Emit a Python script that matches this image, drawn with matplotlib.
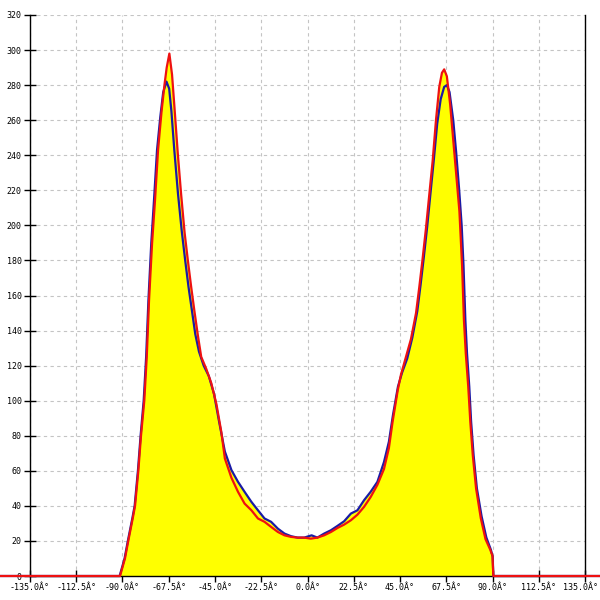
"""
Angular distribution plot: two overlaid profiles (blue, red) with the area
under them filled yellow, plotted against angle from -135 to 135 degrees.
"""

import matplotlib
matplotlib.use("Agg")
import matplotlib.pyplot as plt
import matplotlib.transforms as mtransforms
import numpy as np

# ------------------------------------------------------------------ data
red_angle = [
    -150, -91.2, -88.8, -87.2, -85.0, -83.9, -82.3, -81.0, -79.4, -78.2,
    -77.1, -75.6, -74.2, -72.7, -71.0, -69.6, -68.5, -67.2, -65.9, -64.7,
    -63.1, -61.5, -59.8, -58.2, -56.6, -55.0, -53.3, -51.7, -49.2, -46.8,
    -44.3, -41.9, -40.2, -37.0, -33.8, -30.6, -27.3, -24.1, -20.9, -17.7,
    -14.4, -11.2, -8.0, -4.8, -1.6, 1.6, 4.8, 8.1, 11.4, 14.6,
    17.8, 21.1, 24.3, 27.5, 30.7, 34.0, 37.2, 39.6, 41.4, 43.9,
    45.5, 47.9, 50.3, 52.8, 54.4, 56.0, 57.6, 59.2, 60.9, 62.5,
    64.1, 65.4, 66.5, 67.8, 69.4, 70.8, 72.5, 73.9, 75.2, 76.1,
    77.0, 78.2, 79.2, 80.4, 82.0, 84.3, 86.6, 88.9, 90.0, 90.4,
    150,
]
red_count = [
    0, 0, 10, 20, 33, 40, 60, 80, 100, 125,
    157, 190, 214, 243, 265, 280, 290, 298, 286, 267,
    241, 218, 196, 180, 165, 151, 137, 125, 118, 110,
    98, 82, 67, 56, 48, 41.3, 37.5, 32.8, 30.9, 28,
    25.1, 23.2, 22.3, 21.9, 21.9, 21.3, 21.9, 23.2, 25.1, 27.4,
    29.3, 31.8, 35, 39.4, 45, 52, 61, 73, 88, 106,
    115, 125, 135, 150, 165, 181, 198, 217, 237, 260,
    279, 287, 289, 285, 269, 250, 227, 208, 177, 146,
    127, 108, 88, 69, 50, 33, 21, 15, 11.5, 0,
    0,
]

blue_angle = [
    -150, -91.4, -89.0, -87.4, -85.2, -84.1, -82.5, -81.2, -79.7, -78.5,
    -77.4, -76.0, -74.7, -73.2, -71.6, -70.2, -68.6, -67.3, -66.2, -64.8,
    -63.0, -61.2, -59.5, -57.9, -56.3, -54.6, -52.8, -50.5, -48.0, -45.5,
    -43.0, -40.2, -37.0, -33.8, -30.6, -27.3, -24.1, -20.9, -17.7, -14.4,
    -11.2, -8.0, -4.8, -1.6, 2.0, 4.8, 8.1, 11.4, 14.6, 17.8,
    21.1, 24.3, 27.5, 30.7, 34.0, 37.2, 39.6, 41.6, 44.0, 46.0,
    48.5, 51.0, 53.4, 55.0, 56.6, 58.2, 59.8, 61.5, 63.1, 64.8,
    66.5, 67.8, 69.1, 70.9, 72.3, 73.8, 75.0, 75.9, 76.8, 77.6,
    78.7, 79.6, 80.8, 82.4, 84.7, 87.0, 89.2, 90.1, 90.4, 150,
]
blue_count = [
    0, 0, 10, 20, 33, 40, 60, 80, 100, 125,
    157, 190, 214, 243, 262, 276, 282, 278, 265, 243,
    218, 197, 180, 165, 152, 138, 128, 120, 114, 104,
    88, 71, 60.4, 53.7, 48, 42.3, 37.5, 32.8, 30.9, 27,
    24.2, 22.7, 21.9, 21.9, 23.2, 21.9, 24.2, 26.1, 28.6, 31.2,
    35.6, 37.5, 43.2, 48, 53.7, 65, 76.6, 92, 108, 116,
    124, 136, 151, 166, 182, 199, 218, 238, 258, 272,
    279, 280, 276, 260, 242, 220, 200, 177, 146, 127,
    108, 88, 69, 50, 34, 22, 15, 11, 0, 0,
]

x_ticks = np.arange(-135, 135.1, 22.5)
y_ticks = np.arange(0, 321, 20)

# --------------------------------------------------------------- drawing
fig = plt.figure(figsize=(6, 6), dpi=100)
ax = fig.add_axes([0.05, 0.04, 0.925, 0.935])
ax.set_xlim(-135, 135)
ax.set_ylim(0, 320)

ax.fill_between(blue_angle, blue_count, color="#FFFF00", lw=0, zorder=2)
ax.fill_between(red_angle, red_count, color="#FFFF00", lw=0, zorder=2)
ax.plot(blue_angle, blue_count, color="#1a1aa6", lw=1.6, zorder=4,
        clip_on=False)
ax.plot(red_angle, red_count, color="#ee1111", lw=1.6, zorder=5,
        clip_on=False)

# grid + axes frame
ax.grid(True, color="#c4c4c4", linestyle=(0, (3, 3)), linewidth=0.8)
ax.set_axisbelow(True)
ax.spines["top"].set_visible(False)
for side in ("left", "right", "bottom"):
    ax.spines[side].set_color("black")
    ax.spines[side].set_linewidth(1.0)

ax.set_xticks(x_ticks)
ax.set_xticklabels([f"{v:.1f}Â°" if v != 0 else "0.0Â°" for v in x_ticks])
ax.set_yticks(y_ticks)
ax.set_yticklabels([f"{int(v)}" for v in y_ticks])
ax.tick_params(axis="both", direction="inout", length=8, width=1,
               color="black", labelsize=6.0, pad=2)
ax.tick_params(axis="x", pad=1)
for label in ax.get_xticklabels() + ax.get_yticklabels():
    label.set_family("DejaVu Sans Mono")
    label.set_color("black")

# last x label sits on the right edge of the image - nudge it inside
last = ax.get_xticklabels()[-1]
last.set_transform(last.get_transform()
                   + mtransforms.ScaledTranslation(-4 / 100, 0, fig.dpi_scale_trans))

fig.savefig("out.png", dpi=100)
